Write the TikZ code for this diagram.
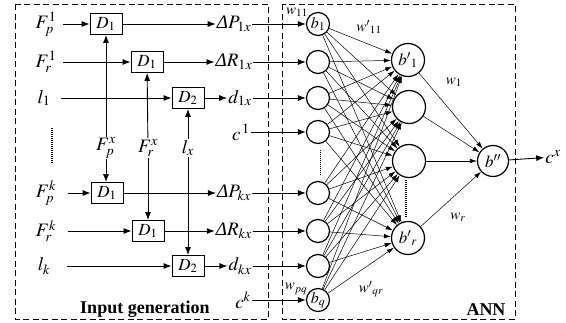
\documentclass[tikz,border=0pt]{standalone}
\usepackage{mathptmx}
\usepackage[no-math]{fontspec}
\setmainfont{Liberation Serif}
\usetikzlibrary{arrows.meta}

\begin{document}
\begin{tikzpicture}[x=1pt,y=-1pt,>={Latex[length=8pt,width=6pt]},
  lbl/.style={inner sep=1pt,font=\fontsize{19}{21}\selectfont},
  rowhead/.style={lbl,minimum width=34pt,inner sep=0pt},
  dbox/.style={draw,line width=0.8pt,minimum width=32pt,minimum height=21pt,inner sep=0pt,font=\fontsize{17}{19}\selectfont},
  neur/.style={circle,draw,line width=1.2pt,minimum size=23pt,inner sep=0pt,font=\fontsize{16}{18}\selectfont},
  hid/.style={neur,minimum size=33pt,font=\fontsize{17}{19}\selectfont},
  wt/.style={inner sep=0pt,font=\fontsize{15}{17}\selectfont},
  frame/.style={line width=0.8pt,dash pattern=on 6pt off 3.5pt},
  sig/.style={->,line width=0.9pt},
  link/.style={->,line width=0.5pt,>={Latex[length=7pt,width=4.5pt]}},
  vdots/.style={line width=1.3pt,dash pattern=on 1pt off 1pt}]
\useasboundingbox (0,0) rectangle (566,322);
% the two dashed blocks
\draw[frame] (15,4) rectangle (268,319);
\draw[frame] (282,4) rectangle (515,319);
\node[font=\fontsize{18}{20}\selectfont\bfseries,anchor=base] (tin) at (145,313) {Input generation};
\node[font=\fontsize{18}{20}\selectfont\bfseries,anchor=base] (tann) at (486,315) {ANN};

% row heads
\node[rowhead] (fp1) at (46,24) {$F_p^1$};
\node[rowhead] (fr1) at (46,62) {$F_r^1$};
\node[rowhead] (l1)  at (44,98) {$l_1$};
\node[rowhead] (fpk) at (46,193) {$F_p^k$};
\node[rowhead] (frk) at (46,231) {$F_r^k$};
\node[rowhead] (lk)  at (44,266) {$l_k$};
\draw[vdots] (52,128) -- (52,163);

% delay blocks
\node[dbox] (d1p) at (106,24) {$D_1$};
\node[dbox] (d1r) at (147,62) {$D_1$};
\node[dbox] (d2l) at (188,98) {$D_2$};
\node[dbox] (dkp) at (107,193) {$D_1$};
\node[dbox] (dkr) at (148,231) {$D_1$};
\node[dbox] (dkl) at (188,266) {$D_2$};

% current values
\node[lbl] (fpx) at (106,148) {$F_p^x$};
\node[lbl] (frx) at (148,148) {$F_r^x$};
\node[lbl] (lx)  at (188,148) {$l_x$};

% network inputs
\node[lbl] (dp1) at (234,24)  {$\textit{Δ}P_{1x}$};
\node[lbl] (dr1) at (234,62)  {$\textit{Δ}R_{1x}$};
\node[lbl] (dd1) at (240,98)  {$d_{1x}$};
\node[lbl] (c1)  at (241,132) {$c^{\,1}$};
\node[lbl] (dpk) at (234,193) {$\textit{Δ}P_{kx}$};
\node[lbl] (drk) at (234,231) {$\textit{Δ}R_{kx}$};
\node[lbl] (ddk) at (240,266) {$d_{kx}$};
\node[lbl] (ck)  at (243,300) {$c^{k}$};

\draw[sig] (fp1.east) -- (d1p);
\draw[sig] (fr1.east) -- (d1r);
\draw[sig] (l1.east) -- (d2l);
\draw[sig] ([xshift=5pt]fpk.east) -- (dkp);
\draw[sig] ([xshift=5pt]frk.east) -- (dkr);
\draw[sig] ([xshift=6pt]lk.east) -- (dkl);
\draw[sig] (fpx) -- (d1p);
\draw[sig] (fpx) -- (fpx|-dkp.north);
\draw[sig] (frx) -- (d1r);
\draw[sig] (frx) -- (dkr);
\draw[sig] (lx) -- (d2l);
\draw[sig] (lx) -- (dkl);
\draw[sig] (d1p) -- (dp1);
\draw[sig] (d1r) -- (dr1);
\draw[sig] (d2l) -- (dd1);
\draw[sig] (dkp) -- (dpk);
\draw[sig] (dkr) -- (drk);
\draw[sig] (dkl) -- (ddk);

% ANN
\foreach \n/\y/\t in {1/24/{$b_1$},2/62/{},3/98/{},4/132/{},5/193/{},6/231/{},7/266/{},8/300/{$b_q$}}
  \node[neur] (in\n) at (318,\y) {\t};
\node[hid] (h1) at (408,60)  {$b'{}_1$};
\node[hid] (h2) at (409,107) {};
\node[hid] (h3) at (409,161) {};
\node[hid] (h4) at (408,238) {$b'{}_r$};
\node[neur,minimum size=31pt,font=\fontsize{17}{19}\selectfont] (out) at (493,161) {$b''$};
\node[lbl] (cx) at (553,157) {$c^x$};
\draw[vdots,line width=0.9pt] (320,150) -- (320,176);
\draw[vdots] (406,180) -- (406,218);

\foreach \a/\b in {dp1/in1,dr1/in2,dd1/in3,c1/in4,dpk/in5,drk/in6,ddk/in7,ck/in8}
  \draw[sig] (\a) -- (\b);
\foreach \i in {1,...,8}
  \foreach \j in {1,...,4}
    \draw[link] (in\i) -- (h\j);
\foreach \j in {1,...,4}
  \draw[link] (h\j) -- (out);
\draw[sig] (out) -- (cx);

% weights
\node[wt] (w11) at (297,12) {$w_{11}$};
\node[wt] (wq11) at (369,27) {$w'{}_{11}$};
\node[wt] (w1) at (454,82) {$w_1$};
\node[wt] (wr) at (458,217) {$w_r$};
\node[wt] (wpq) at (296,289) {$w_{pq}$};
\node[wt] (wqr) at (371,289) {$w'{}_{qr}$};
\end{tikzpicture}
\end{document}
